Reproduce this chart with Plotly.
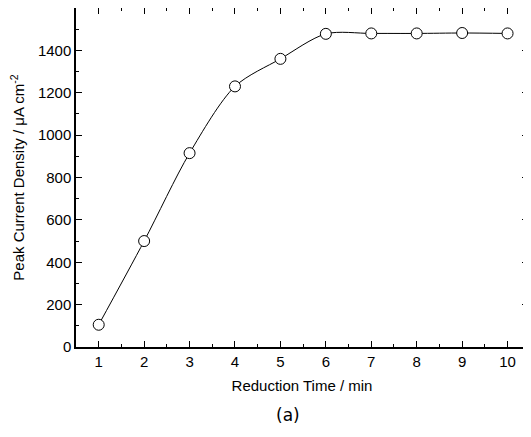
import plotly.graph_objects as go

reduction_time = [1, 2, 3, 4, 5, 6, 7, 8, 9, 10]
peak_current = [105, 500, 915, 1230, 1360, 1478, 1480, 1480, 1482, 1480]
x_tick_vals = [1, 2, 3, 4, 5, 6, 7, 8, 9, 10]
y_tick_vals = [0, 200, 400, 600, 800, 1000, 1200, 1400]

fig = go.Figure()
fig.add_trace(go.Scatter(
    x=reduction_time, y=peak_current, mode="lines+markers",
    line=dict(color="black", width=1, shape="spline", smoothing=0.85),
    marker=dict(symbol="circle", size=11, color="white",
                line=dict(color="black", width=1)),
    showlegend=False,
))

fam = "Liberation Sans"
axis_font = dict(family=fam, size=15, color="black")
# page body has an 8px default margin, so the figure is sized/offset to compensate
fig.update_layout(
    width=523, height=429,
    margin=dict(l=68, r=3, t=0, b=90),
    paper_bgcolor="white", plot_bgcolor="white",
    font=axis_font,
    xaxis=dict(
        range=[0.5, 10.45], tickvals=x_tick_vals, automargin=False,
        ticks="inside", ticklen=6, tickwidth=1, tickcolor="black",
        minor=dict(ticks="inside", ticklen=3, dtick=0.5, tick0=0.5, tickcolor="black"),
        showline=True, linecolor="black", linewidth=1.5, mirror="ticks",
        showgrid=False, zeroline=False,
        tickfont=axis_font,
        title=dict(text="Reduction Time / min", font=dict(family=fam, size=15), standoff=12),
    ),
    yaxis=dict(
        range=[0, 1600], tickvals=y_tick_vals, automargin=False,
        ticks="inside", ticklen=6, tickwidth=1, tickcolor="black",
        minor=dict(ticks="inside", ticklen=3, dtick=100, tick0=0, tickcolor="black"),
        showline=True, linecolor="black", linewidth=1.5, mirror="ticks",
        showgrid=False, zeroline=False,
        tickfont=axis_font,
        title=dict(text="Peak Current Density / \u03bcA cm<sup>-2</sup>", font=dict(family=fam, size=15), standoff=12),
    ),
)
fig.add_annotation(
    text="(a)", xref="paper", yref="paper", x=0.469, y=-0.2,
    xanchor="center", yanchor="middle", showarrow=False,
    font=dict(family="DejaVu Sans", size=17, color="black"),
)
fig.write_html("out.html")
